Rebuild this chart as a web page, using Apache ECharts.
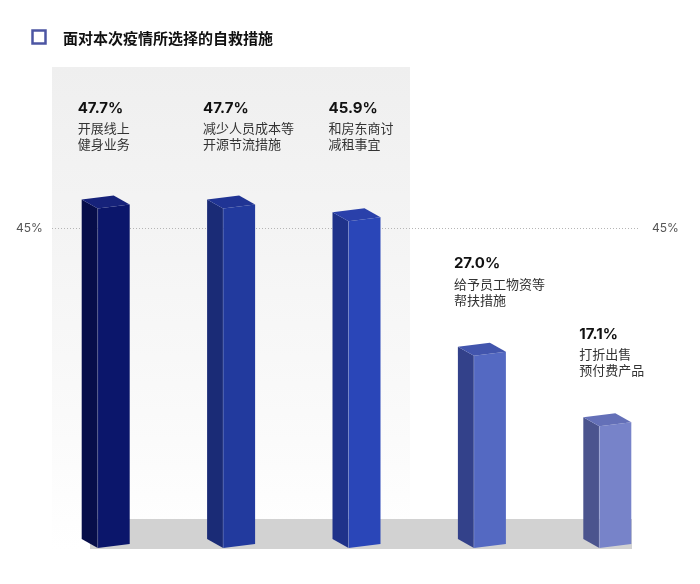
<!DOCTYPE html>
<html>
<head>
<meta charset="utf-8">
<script src="https://cdn.jsdelivr.net/npm/echarts@6/dist/echarts.min.js"></script>
<style>
html,body{margin:0;padding:0;background:#fff;}
#chart{width:700px;height:584px;}
</style>
</head>
<body>
<div id="chart"></div>
<script>
const title = '面对本次疫情所选择的自救措施';
const categories = ['开展线上\n健身业务', '减少人员成本等\n开源节流措施', '和房东商讨\n减租事宜', '给予员工物资等\n帮扶措施', '打折出售\n预付费产品'];
const values = [47.7, 47.7, 45.9, 27.0, 17.1];
const refValue = 45;
const refLabel = '45%';

const palette = [
  {front: '#0b166b', left: '#070e4a', top: '#16227a'},
  {front: '#223a9e', left: '#1a2b76', top: '#203494'},
  {front: '#2a46b8', left: '#1f328a', top: '#2a40aa'},
  {front: '#5469c2', left: '#33418a', top: '#4255ad'},
  {front: '#7783c9', left: '#4b548e', top: '#6470b8'}
];
const numFont = 'Inter, "Noto Sans CJK SC", sans-serif';
const cjkFont = '"Noto Sans CJK SC", sans-serif';

const chart = echarts.init(document.getElementById('chart'), null, {renderer: 'canvas'});

function renderBar(params, api) {
  const i = api.value(0);
  const v = api.value(1);
  const top = api.coord([i, v]);
  const base = api.coord([i, 0]);
  const fx = top[0] - 8, fy = top[1], by = base[1];
  const c = palette[i];
  const lx = fx - 16;
  const labelY = v >= refValue ? 108 : fy - 92;
  const lines = categories[i].split('\n');
  const children = [
    {type: 'polygon', shape: {points: [[lx, fy - 9], [fx, fy], [fx, by], [lx, by - 9]]}, style: {fill: c.left}},
    {type: 'polygon', shape: {points: [[fx, fy], [fx + 32, fy - 4], [fx + 32, by - 4], [fx, by]]}, style: {fill: c.front}},
    {type: 'polygon', shape: {points: [[lx, fy - 9], [fx + 16, fy - 13], [fx + 32, fy - 4], [fx, fy]]}, style: {fill: c.top}},
    {type: 'line', shape: {x1: fx, y1: fy, x2: fx, y2: by}, style: {stroke: 'rgba(255,255,255,0.18)', lineWidth: 1}},
    {type: 'text', x: lx - 4, y: labelY, style: {text: v.toFixed(1) + '%', fill: '#111', font: 'bold 15px ' + numFont, verticalAlign: 'middle', align: 'left'}}
  ];
  lines.forEach(function (t, k) {
    children.push({type: 'text', x: lx - 4, y: labelY + 20 + k * 16, style: {text: t, fill: '#333', font: '13px ' + cjkFont, verticalAlign: 'middle', align: 'left'}});
  });
  return {type: 'group', children: children};
}

function renderRef(params, api) {
  const p = api.coord([0, api.value(0)]);
  const y = Math.round(p[1]) + 0.5;
  return {type: 'group', children: [
    {type: 'line', shape: {x1: 52, y1: y, x2: 640, y2: y}, style: {stroke: '#b5b5b5', lineWidth: 1, lineDash: [1, 2]}},
    {type: 'text', x: 16, y: y, style: {text: refLabel, fill: '#555', font: '12px ' + numFont, verticalAlign: 'middle', align: 'left'}},
    {type: 'text', x: 652, y: y, style: {text: refLabel, fill: '#555', font: '12px ' + numFont, verticalAlign: 'middle', align: 'left'}}
  ]};
}

chart.setOption({
  animation: false,
  backgroundColor: '#ffffff',
  grid: {left: 43, right: 30, top: 121, bottom: 36},
  xAxis: {type: 'category', data: categories.map((c, i) => i), show: false},
  yAxis: {type: 'value', min: 0, max: 60, show: false},
  graphic: [
    {type: 'rect', z: -10, shape: {x: 52, y: 67, width: 358, height: 483},
      style: {fill: new echarts.graphic.LinearGradient(0, 0, 0, 1, [{offset: 0, color: '#efefef'}, {offset: 0.6, color: '#f8f8f8'}, {offset: 1, color: '#ffffff'}])}},
    {type: 'rect', z: -5, shape: {x: 90, y: 519, width: 542, height: 30}, style: {fill: '#d2d2d2'}},
    {type: 'rect', z: 10, shape: {x: 32.5, y: 30.5, width: 13, height: 13}, style: {fill: 'none', stroke: '#4c55a3', lineWidth: 2.5}},
    {type: 'text', z: 10, x: 63, y: 38, style: {text: title, fill: '#111', font: 'bold 15px ' + cjkFont, verticalAlign: 'middle'}}
  ],
  series: [
    {type: 'custom', renderItem: renderRef, data: [[refValue]], z: 1, silent: true},
    {type: 'custom', renderItem: renderBar, data: values.map((v, i) => [i, v]), z: 2, silent: true}
  ]
});
</script>
</body>
</html>
